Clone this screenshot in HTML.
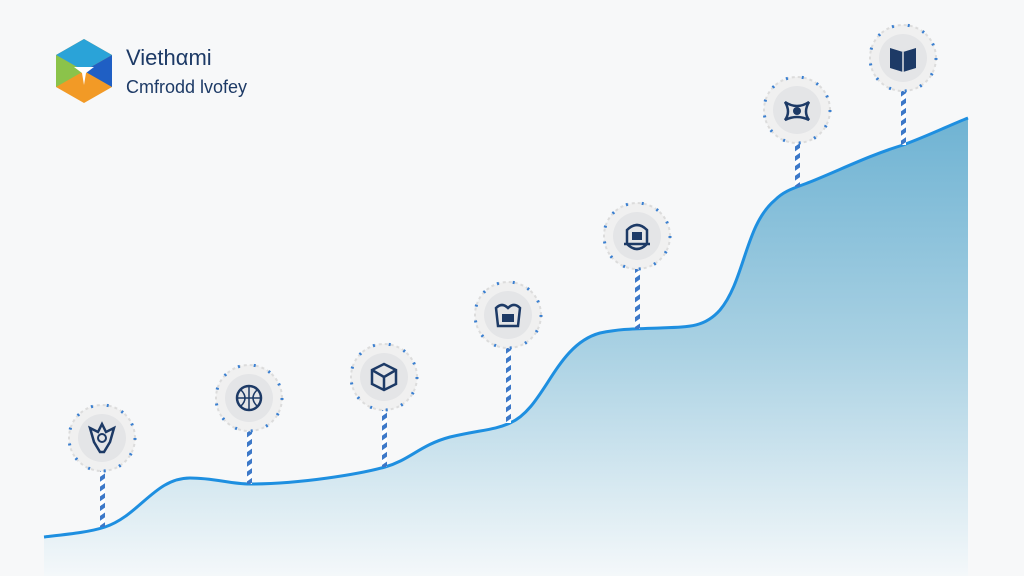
<!DOCTYPE html>
<html><head><style>
html,body{margin:0;padding:0;background:#f7f8f9;width:1024px;height:576px;overflow:hidden}
</style></head><body>
<svg width="1024" height="576" viewBox="0 0 1024 576" xmlns="http://www.w3.org/2000/svg">
<defs>
<linearGradient id="g" x1="0" y1="0" x2="0" y2="1">
<stop offset="0" stop-color="#6fb3d3"/><stop offset="0.5" stop-color="#a9d1e3"/><stop offset="1" stop-color="#f4f8fa"/>
</linearGradient>
<pattern id="st" width="6" height="8" patternUnits="userSpaceOnUse" patternTransform="rotate(-35)">
<rect width="6" height="8" fill="#fff"/><rect width="6" height="4" fill="#3c78c8"/>
</pattern>
</defs>
<rect width="1024" height="576" fill="#f7f8f9"/>
<path d="M44,537 C70,534 90,532 105,527 C140,515 155,478 190,478 C215,478 230,484 250,484 C300,484 360,474 385,467 C410,460 420,445 450,437 C480,430 495,430 510,423 C545,408 555,345 600,333 C620,329 630,329 660,328 C690,327 705,327 720,310 C745,280 745,225 775,200 C785,190 795,188 810,182 C840,170 870,155 903,145 C930,135 950,125 968,118 L968,576 L44,576 Z" fill="url(#g)"/>
<path d="M44,537 C70,534 90,532 105,527 C140,515 155,478 190,478 C215,478 230,484 250,484 C300,484 360,474 385,467 C410,460 420,445 450,437 C480,430 495,430 510,423 C545,408 555,345 600,333 C620,329 630,329 660,328 C690,327 705,327 720,310 C745,280 745,225 775,200 C785,190 795,188 810,182 C840,170 870,155 903,145 C930,135 950,125 968,118" fill="none" stroke="#1e8fe0" stroke-width="3"/>
<g>
<!-- markers -->
<g id="m1"><rect x="100" y="468" width="5" height="59" fill="url(#st)"/><circle cx="102" cy="438" r="33" fill="#f0f0f0" stroke="#dcdcdc" stroke-width="2" stroke-dasharray="3 3"/><circle cx="102" cy="438" r="24" fill="#e4e5e7"/><circle cx="102" cy="438" r="33" fill="none" stroke="#3a7fd0" stroke-width="3" stroke-dasharray="2 14"/><path d="M90,428 L98,432 L102,424 L106,432 L114,428 L110,442 L104,452 L100,452 L94,442 Z" fill="none" stroke="#1d3a66" stroke-width="2.5"/><circle cx="102" cy="438" r="4" fill="none" stroke="#1d3a66" stroke-width="2"/></g>
<rect x="247" y="428" width="5" height="56" fill="url(#st)"/><circle cx="249" cy="398" r="33" fill="#f0f0f0" stroke="#dcdcdc" stroke-width="2" stroke-dasharray="3 3"/><circle cx="249" cy="398" r="24" fill="#e4e5e7"/><circle cx="249" cy="398" r="33" fill="none" stroke="#3a7fd0" stroke-width="3" stroke-dasharray="2 14"/><circle cx="249" cy="398" r="12" fill="none" stroke="#1d3a66" stroke-width="2.5"/><path d="M237,398 H261 M249,386 V410 M241,390 Q249,398 241,406 M257,390 Q249,398 257,406" stroke="#1d3a66" stroke-width="1.5" fill="none"/>
<rect x="382" y="407" width="5" height="60" fill="url(#st)"/><circle cx="384" cy="377" r="33" fill="#f0f0f0" stroke="#dcdcdc" stroke-width="2" stroke-dasharray="3 3"/><circle cx="384" cy="377" r="24" fill="#e4e5e7"/><circle cx="384" cy="377" r="33" fill="none" stroke="#3a7fd0" stroke-width="3" stroke-dasharray="2 14"/><path d="M372,370 L384,364 L396,370 L396,384 L384,390 L372,384 Z M372,370 L384,377 L396,370 M384,377 V390" fill="none" stroke="#1d3a66" stroke-width="2.5"/>
<rect x="506" y="345" width="5" height="78" fill="url(#st)"/><circle cx="508" cy="315" r="33" fill="#f0f0f0" stroke="#dcdcdc" stroke-width="2" stroke-dasharray="3 3"/><circle cx="508" cy="315" r="24" fill="#e4e5e7"/><circle cx="508" cy="315" r="33" fill="none" stroke="#3a7fd0" stroke-width="3" stroke-dasharray="2 14"/><path d="M496,308 Q502,302 508,308 Q514,302 520,308 L518,326 L498,326 Z" fill="none" stroke="#1d3a66" stroke-width="2.5"/><rect x="502" y="314" width="12" height="8" fill="#1d3a66"/>
<rect x="635" y="266" width="5" height="63" fill="url(#st)"/><circle cx="637" cy="236" r="33" fill="#f0f0f0" stroke="#dcdcdc" stroke-width="2" stroke-dasharray="3 3"/><circle cx="637" cy="236" r="24" fill="#e4e5e7"/><circle cx="637" cy="236" r="33" fill="none" stroke="#3a7fd0" stroke-width="3" stroke-dasharray="2 14"/><path d="M627,244 Q637,254 647,244 L647,230 Q637,220 627,230 Z M624,244 H650" fill="none" stroke="#1d3a66" stroke-width="2.5"/><rect x="632" y="232" width="10" height="8" fill="#1d3a66"/>
<rect x="795" y="140" width="5" height="47" fill="url(#st)"/><circle cx="797" cy="110" r="33" fill="#f0f0f0" stroke="#dcdcdc" stroke-width="2" stroke-dasharray="3 3"/><circle cx="797" cy="110" r="24" fill="#e4e5e7"/><circle cx="797" cy="110" r="33" fill="none" stroke="#3a7fd0" stroke-width="3" stroke-dasharray="2 14"/><path d="M785,102 Q797,110 809,102 Q803,112 809,120 Q797,114 785,120 Q791,112 785,102 Z" fill="none" stroke="#1d3a66" stroke-width="2.5"/><circle cx="797" cy="111" r="4" fill="#1d3a66"/>
<rect x="901" y="88" width="5" height="57" fill="url(#st)"/><circle cx="903" cy="58" r="33" fill="#f0f0f0" stroke="#dcdcdc" stroke-width="2" stroke-dasharray="3 3"/><circle cx="903" cy="58" r="24" fill="#e4e5e7"/><circle cx="903" cy="58" r="33" fill="none" stroke="#3a7fd0" stroke-width="3" stroke-dasharray="2 14"/><path d="M890,48 L903,52 L916,48 L916,68 L903,72 L890,68 Z" fill="#1d3a66"/><path d="M903,52 V72" stroke="#e4e5e7" stroke-width="1.5"/>
</g>
<!-- logo -->
<g transform="translate(84,71)">
<polygon points="0,-32 28,-16 28,16 0,32 -28,16 -28,-16" fill="#f29a26"/>
<polygon points="0,-32 28,-16 0,0 -28,-16" fill="#2aa3d8"/>
<polygon points="-28,-16 0,0 -28,16" fill="#8bc34a"/>
<polygon points="28,-16 28,16 0,0" fill="#1f5fc4"/>
<polygon points="-10,-4 10,-4 2,2 0,14 -2,2" fill="#fff"/>
</g>
<text x="126" y="65" font-family="Liberation Sans, sans-serif" font-size="22" fill="#1d3a66">Viethαmi</text>
<text x="126" y="93" font-family="Liberation Sans, sans-serif" font-size="18" fill="#1d3a66">Cmfrodd lvofey</text>
</svg>
</body></html>
